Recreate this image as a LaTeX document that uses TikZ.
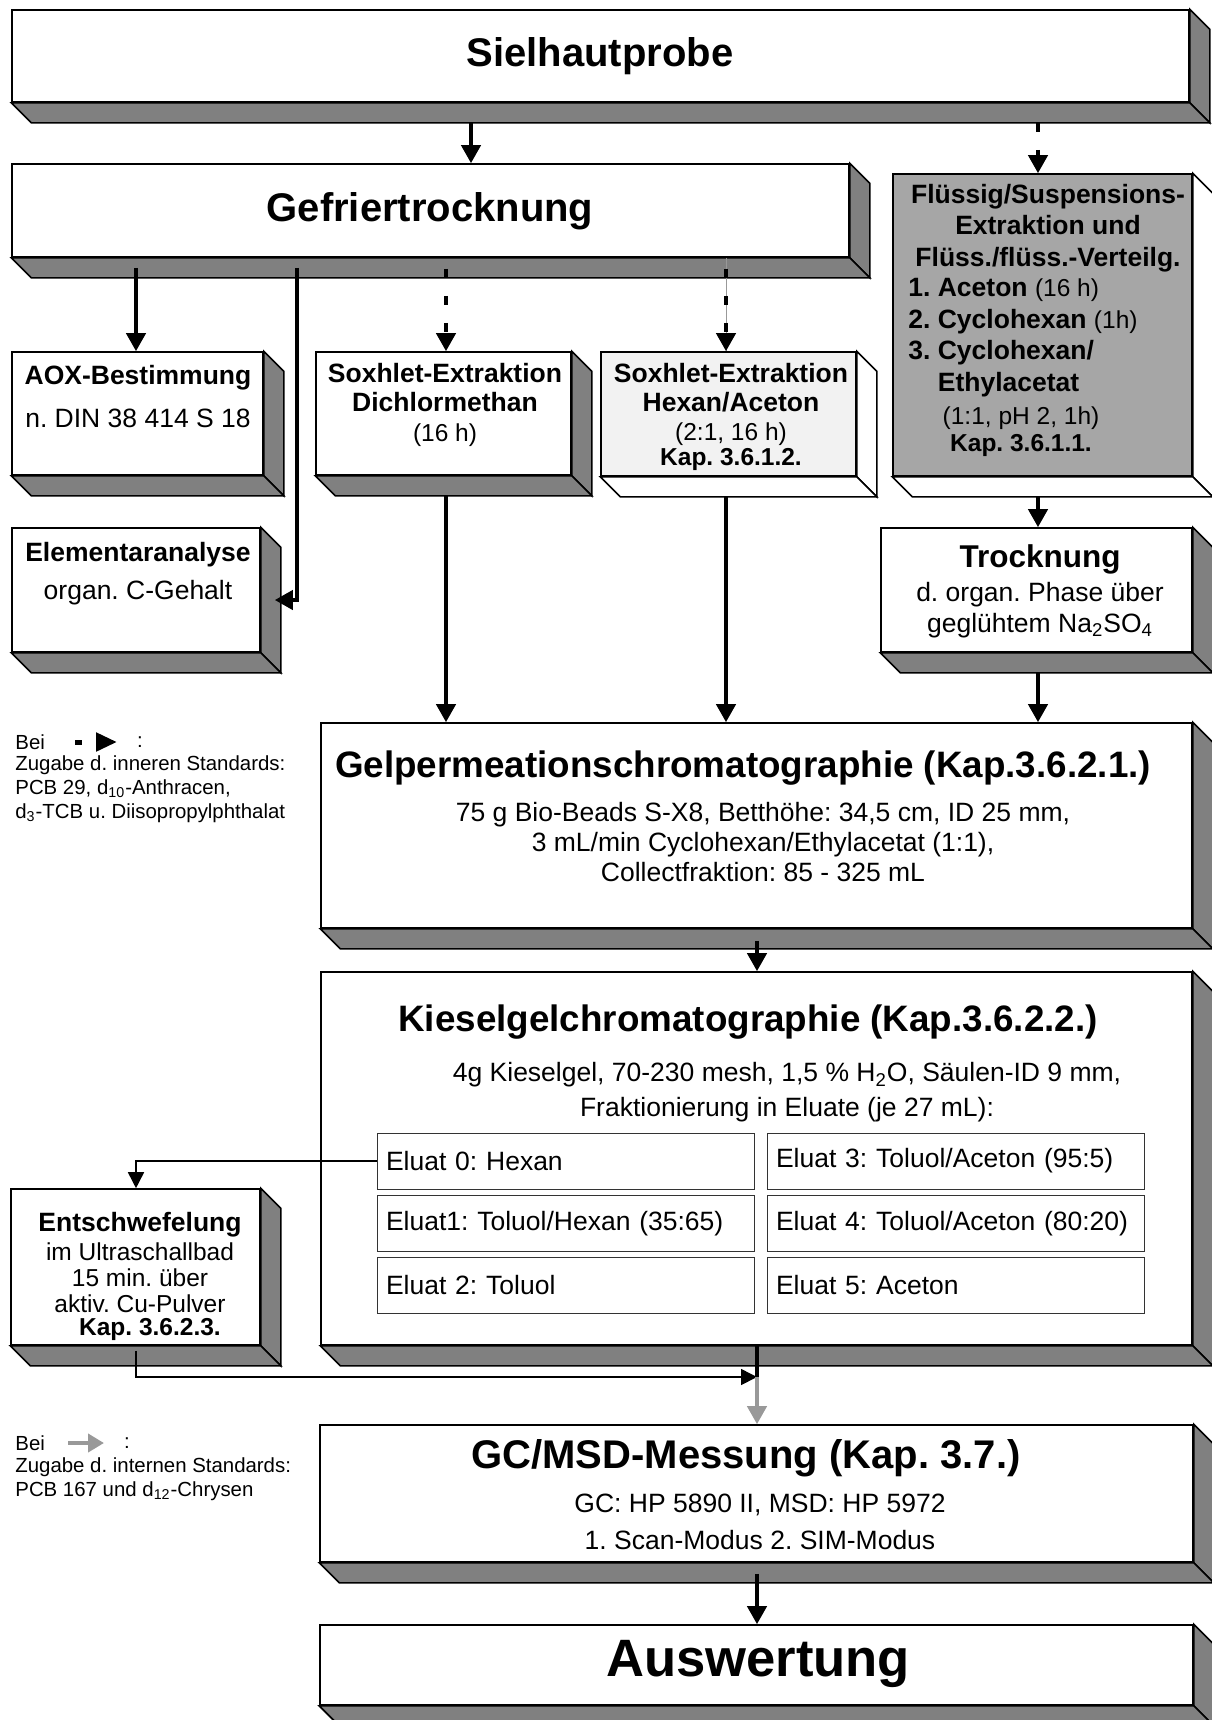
\documentclass[tikz,border=0pt]{standalone}
\usepackage{fontspec}
\setmainfont{Liberation Sans}
\usetikzlibrary{arrows.meta,positioning,fit}
\definecolor{sidegray}{HTML}{808080}
\definecolor{darkfill}{HTML}{A6A6A6}
\definecolor{lightfill}{HTML}{F2F2F2}
\definecolor{stdgray}{HTML}{999999}
\newcommand{\slab}[2]{%
  \draw[line width=0.8pt, fill=#2] (#1.north east) -- ++(10pt,-10pt)
    -- ([shift={(10pt,-10pt)}]#1.south east) -- (#1.south east) -- cycle;
  \draw[line width=0.8pt, fill=#2] (#1.south west) -- ++(10pt,-10pt)
    -- ([shift={(10pt,-10pt)}]#1.south east) -- (#1.south east) -- cycle;}
\newcommand{\minorsize}{\fontsize{12.25}{13}\selectfont}

\begin{document}
\frenchspacing
\begin{tikzpicture}[x=0.5pt, y=-0.5pt,
  plate/.style={draw=black, line width=0.8pt, fill=white, inner sep=0pt},
  eluatbox/.style={draw=black!80, line width=0.5pt, minimum height=28pt,
    text width=180pt, inner xsep=4.25pt, inner ysep=0pt, align=left, anchor=west,
    font=\fontsize{13.25}{15.8}\selectfont},
  bigtitle/.style={inner sep=0pt, font=\bfseries\fontsize{20}{24}\selectfont},
  steptitle/.style={inner sep=0pt, font=\bfseries\fontsize{18.4}{22}\selectfont},
  boxtext/.style={inner sep=0pt, align=center, font=\fontsize{13.25}{15.5}\selectfont},
  note/.style={inner sep=0pt, align=left, anchor=north west, font=\fontsize{10.2}{12}\selectfont},
  flow/.style={line width=2pt, -{Triangle[length=9pt,width=9.5pt]}},
  dashflow/.style={flow, dash pattern=on 4.5pt off 9pt},
  thinflow/.style={line width=0.8pt, -{Triangle[length=8pt,width=8pt]}},
  stdflow/.style={line width=2pt, stdgray, -{Triangle[length=9pt,width=9.5pt]}}
]
\useasboundingbox (0,0) rectangle (1211,1720);

% boxes
\node[plate, fit={(12,10) (1189,102)}] (probe) {};
\node[plate, fit={(12,164) (849,257)}] (gefrier) {};
\node[plate, fill=darkfill, fit={(893,174) (1192,476)}] (fluessig) {};
\node[plate, fit={(12,352) (263,475)}] (aox) {};
\node[plate, fit={(316,352) (571,475)}] (dcm) {};
\node[plate, fill=lightfill, fit={(601,352) (856,476)}] (hexace) {};
\node[plate, fit={(12,528) (260,652)}] (elem) {};
\node[plate, fit={(881,528) (1192,652)}] (trock) {};
\node[plate, fit={(321,723) (1192,928)}] (gpc) {};
\node[plate, fit={(321,972) (1192,1345)}] (kiesel) {};
\node[plate, fit={(11,1189) (260,1345)}] (entschw) {};
\node[plate, fit={(320,1425) (1193,1562)}] (gcms) {};
\node[plate, fit={(320,1625) (1193,1705)}] (ausw) {};
\foreach \b in {probe,gefrier,aox,dcm,elem,trock,gpc,kiesel,entschw,gcms,ausw}
  {\slab{\b}{sidegray}}
\slab{fluessig}{white}
\slab{hexace}{white}

% texts
\node[bigtitle] (probetxt) at (600,56) {Sielhautprobe};
\node[bigtitle] (gefriertxt) at (430,211) {Gefriertrocknung};
\node[boxtext, font=\bfseries\fontsize{13.25}{15.8}\selectfont] (fluesshead) at (1048,228)
  {Flüssig/Suspensions-\\Extraktion und\\Flüss./flüss.-Verteilg.};
\node[boxtext, align=left, anchor=west, font=\fontsize{13.25}{15.8}\selectfont] (fluesslist) at (908,337.5)
  {\textbf{1. Aceton} {\minorsize(16 h)}\\\textbf{2. Cyclohexan} {\minorsize(1h)}\\\textbf{3. Cyclohexan/}\\\phantom{\textbf{3. }}\textbf{Ethylacetat}};
\node[boxtext, font=\fontsize{12.25}{13.5}\selectfont] (fluessfoot) at (1021,431.5)
  {(1:1, pH 2, 1h)\\\textbf{Kap. 3.6.1.1.}};
\node[boxtext, font=\fontsize{13.25}{21.5}\selectfont] (aoxtxt) at (138,396.5)
  {\textbf{AOX-Bestimmung}\\n. DIN 38 414 S 18};
\node[boxtext, font=\fontsize{13.25}{14.5}\selectfont] (dcmtxt) at (445,405)
  {\textbf{Soxhlet-Extraktion}\\\textbf{Dichlormethan}\\[0.5pt]{\minorsize(16 h)}};
\node[boxtext, font=\fontsize{13.25}{14.5}\selectfont] (hexacetxt) at (731,417)
  {\textbf{Soxhlet-Extraktion}\\\textbf{Hexan/Aceton}\\{\minorsize(2:1, 16 h)}\\[-2pt]{\minorsize\bfseries Kap. 3.6.1.2.}};
\node[boxtext, font=\fontsize{13.25}{19}\selectfont] (elemtxt) at (138,574)
  {\textbf{Elementaranalyse}\\organ. C-Gehalt};
\node[boxtext] (trocktxt) at (1040,591)
  {{\bfseries\fontsize{15.75}{17}\selectfont Trocknung}\\[1.5pt]d. organ. Phase über\\geglühtem Na\textsubscript{2}SO\textsubscript{4}};
\node[steptitle] (gpctitle) at (743,768) {Gelpermeationschromatographie (Kap.3.6.2.1.)};
\node[boxtext, font=\fontsize{13.25}{15}\selectfont] (gpctxt) at (763,842)
  {75 g Bio-Beads S-X8, Betthöhe: 34,5 cm, ID 25 mm,\\3 mL/min Cyclohexan/Ethylacetat (1:1),\\Collectfraktion: 85 - 325 mL};
\node[steptitle] (kieseltitle) at (748,1022) {Kieselgelchromatographie (Kap.3.6.2.2.)};
\node[boxtext, font=\fontsize{13.25}{17.5}\selectfont] (kieseltxt) at (787,1092.5)
  {4g Kieselgel, 70-230 mesh, 1,5 \% H\textsubscript{2}O, Säulen-ID 9 mm,\\Fraktionierung in Eluate (je 27 mL):};
\node[eluatbox] (e0) at (377,1161) {Eluat 0: Hexan};
\node[eluatbox] (e1) at (377,1223.5) {Eluat1: Toluol/Hexan (35:65)};
\node[eluatbox] (e2) at (377,1285.5) {Eluat 2: Toluol};
\node[eluatbox] (e3) at (767,1161) {Eluat 3: Toluol/Aceton (95:5)};
\node[eluatbox] (e4) at (767,1223.5) {Eluat 4: Toluol/Aceton (80:20)};
\node[eluatbox] (e5) at (767,1285.5) {Eluat 5: Aceton};
\node[boxtext, font=\fontsize{12.25}{13}\selectfont] (entschwtxt) at (140,1276)
  {{\bfseries\fontsize{13.25}{15}\selectfont Entschwefelung}\\[1.5pt]im Ultraschallbad\\15 min. über\\aktiv. Cu-Pulver\\[-1.5pt]\hspace*{10pt}\textbf{Kap. 3.6.2.3.}};
\node[bigtitle] (gcmstitle) at (746,1458) {GC/MSD-Messung (Kap. 3.7.)};
\node[boxtext, font=\fontsize{13.25}{18.5}\selectfont] (gcmstxt) at (760,1521.5)
  {GC: HP 5890 II, MSD: HP 5972\\1. Scan-Modus 2. SIM-Modus};
\node[inner sep=0pt, font=\bfseries\fontsize{26.3}{30}\selectfont] (auswtxt) at (758,1664) {Auswertung};

% legends
\node[note, anchor=west] (bei1) at (15,742) {Bei};
\node[note, anchor=center] (colon1) at (140,742) {:};
\node[note] (std1) at (15,755)
  {Zugabe d. inneren Standards:\\PCB 29, d\textsubscript{10}-Anthracen,\\d\textsubscript{3}-TCB u. Diisopropylphthalat};
\coordinate (legdashA) at (75,742);
\coordinate (legdashB) at (117,742);
\draw[line width=2.5pt, dash pattern=on 3.5pt off 20pt, -{Triangle[length=10.5pt,width=9pt]}] (legdashA) -- (legdashB);
\node[note, anchor=west] (bei2) at (15,1443) {Bei};
\node[note, anchor=center] (colon2) at (127,1443) {:};
\node[note] (std2) at (15,1457)
  {Zugabe d. internen Standards:\\PCB 167 und d\textsubscript{12}-Chrysen};
\coordinate (legstdA) at (68,1443);
\coordinate (legstdB) at (104,1443);
\draw[stdflow, -{Triangle[length=8pt,width=9pt]}] (legstdA) -- (legstdB);

% connectors
\coordinate (cProbe) at (471,0);
\coordinate (cAox) at (136,0);
\coordinate (cElem) at (297,0);
\coordinate (cDcm) at (446,0);
\coordinate (cHex) at (726,0);
\coordinate (cFluess) at (1038,0);
\coordinate (cMain) at (757,0);
\coordinate (merge) at (757,1377);

\draw[flow] (probe.south -| cProbe) ++(0,20) -- (gefrier.north -| cProbe);
\draw[dashflow] (probe.south -| cFluess) ++(0,20) -- (fluessig.north -| cFluess);
\draw[flow] (gefrier.south -| cAox) ++(0,10) -- (aox.north -| cAox);
\draw[flow] (gefrier.south -| cElem) ++(0,10) |- ([xshift=7pt,yshift=-5pt]elem.east);
\draw[dashflow, dash phase=8pt] (gefrier.south -| cDcm) -- (dcm.north -| cDcm);
\draw[stdgray, line width=0.4pt] (gefrier.south -| cHex) -- (hexace.north -| cHex);
\draw[dashflow, dash phase=8pt] (gefrier.south -| cHex) -- (hexace.north -| cHex);
\draw[flow] (fluessig.south -| cFluess) ++(0,20) -- (trock.north -| cFluess);
\draw[flow] (dcm.south -| cDcm) ++(0,20) -- (gpc.north -| cDcm);
\draw[flow] (hexace.south -| cHex) ++(0,20) -- (gpc.north -| cHex);
\draw[flow] (trock.south -| cFluess) ++(0,20) -- (gpc.north -| cFluess);
\draw[flow] (gpc.south -| cMain) ++(0,12) -- (kiesel.north -| cMain);
\draw[thinflow] (e0.west) -| (entschw.north -| cAox);
\draw[line width=2pt] (kiesel.south -| merge) -- (merge);
\draw[thinflow] (entschw.south -| cAox) ++(0,5) |- (merge);
\draw[stdflow] (merge) -- (gcms.north -| merge);
\draw[flow] (gcms.south -| cMain) ++(0,11) -- (ausw.north -| cMain);
\end{tikzpicture}
\end{document}
